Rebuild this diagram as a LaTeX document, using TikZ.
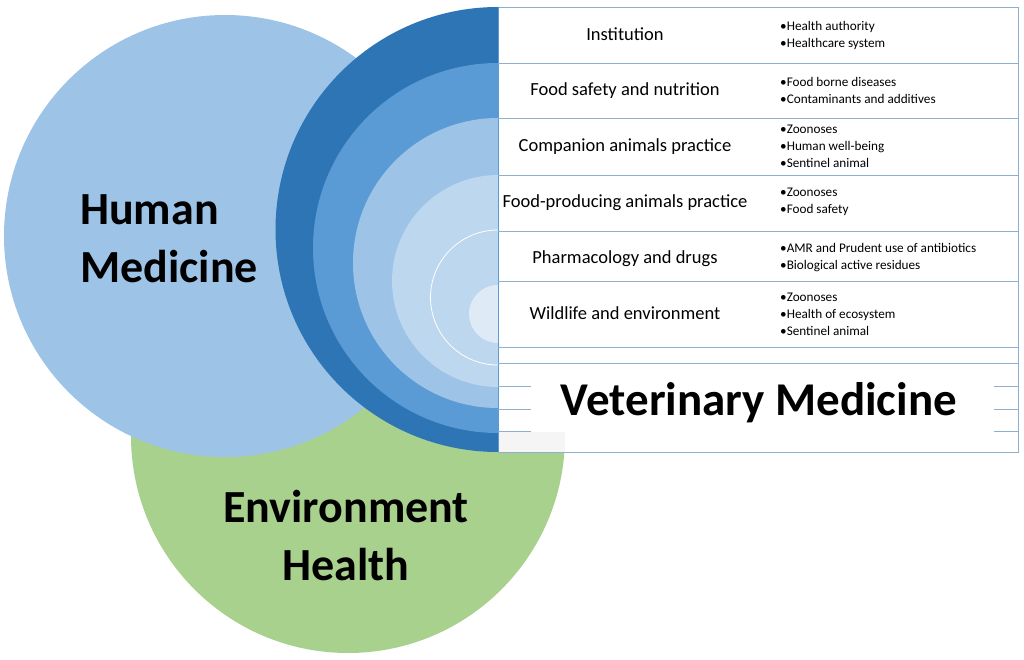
\documentclass[tikz,border=0pt]{standalone}
\usepackage{fontspec}
\setmainfont{Carlito}
\usepackage{tikz}
\definecolor{humanblue}{HTML}{9DC3E6}
\definecolor{envgreen}{HTML}{A9D18E}
\definecolor{ringA}{HTML}{2E75B6}
\definecolor{ringB}{HTML}{5B9BD5}
\definecolor{ringC}{HTML}{9DC3E6}
\definecolor{ringD}{HTML}{BDD7EE}
\definecolor{ringE}{HTML}{DEEBF7}
\definecolor{gridline}{HTML}{8EAFCF}
\newcommand{\bul}{\textbullet}
\tikzset{%
  disc/.style = {circle, inner sep=0pt, minimum size=#1},
  bigtitle/.style = {font=\fontsize{46}{58}\selectfont\bfseries,
    align=center, inner sep=0pt},
  rowlabel/.style = {font=\fontsize{18.5}{22}\selectfont,
    anchor=base, inner sep=0pt},
  bullets/.style = {font=\fontsize{13.2}{17}\selectfont,
    align=left, anchor=west, inner sep=0pt},
  rule/.style = {draw=gridline, line width=0.8pt}
}

\begin{document}
\begin{tikzpicture}[x=1pt,y=-1pt]
\useasboundingbox (0,0) rectangle (1024,660);

% the three circles
\node (env) [disc=434pt, fill=envgreen] at (348,436) {};
\node (human) [disc=442pt, fill=humanblue] at (225,236) {};
\node (ringa) [disc=445pt, fill=ringA] at (498,229.5) {};
\node (ringb) [disc=370pt, fill=ringB] at (498,248) {};
\node (ringc) [disc=290pt, fill=ringC] at (498,263) {};
\node (ringd) [disc=212pt, fill=ringD] at (498,281) {};
\node (ringe) [disc=135pt, draw=white, line width=0.8pt] at (498,297.5) {};
\node (ringf) [disc=58pt, fill=ringE] at (498,314) {};

% table
\draw[rule, fill=white] (498,7) rectangle (1018,452);
\fill[black!4] (498.5,431.5) rectangle (565,451.5);
\draw[draw=ringB, line width=0.8pt] (498,7) -- (498,452);
\foreach \y in {63,118,175,231,281,347,363}
  \draw[rule] (498,\y) -- (1018,\y);
\foreach \y in {386,409,431} {
  \draw[rule] (498,\y) -- (531,\y);
  \draw[rule] (994,\y) -- (1018,\y);
}

\node (inst) [rowlabel] at (625,41) {Institution};
\node (instb) [bullets] at (780,35) {\bul Health authority\\\bul Healthcare system};
\node (food) [rowlabel] at (625,96) {Food safety and nutrition};
\node (foodb) [bullets] at (780,90.5) {\bul Food borne diseases\\\bul Contaminants and additives};
\node (comp) [rowlabel] at (625,152) {Companion animals practice};
\node (compb) [bullets] at (780,146) {\bul Zoonoses\\\bul Human well-being\\\bul Sentinel animal};
\node (prod) [rowlabel] at (625,208) {Food-producing animals practice};
\node (prodb) [bullets] at (780,202) {\bul Zoonoses\\\bul Food safety};
\node (pharm) [rowlabel] at (625,263) {Pharmacology and drugs};
\node (pharmb) [bullets] at (780,258) {\bul AMR and Prudent use of antibiotics\\\bul Biological active residues};
\node (wild) [rowlabel] at (625,319) {Wildlife and environment};
\node (wildb) [bullets] at (780,314) {\bul Zoonoses\\\bul Health of ecosystem\\\bul Sentinel animal};

% titles
\node (humantxt) [bigtitle, align=left, anchor=west] at (80,239) {Human\\Medicine};
\node (envtxt) [bigtitle] at (346,536) {Environment\\Health};
\node (vettxt) [bigtitle, anchor=base, font=\fontsize{47}{58}\selectfont\bfseries] at (759,415) {Veterinary Medicine};
\end{tikzpicture}
\end{document}
